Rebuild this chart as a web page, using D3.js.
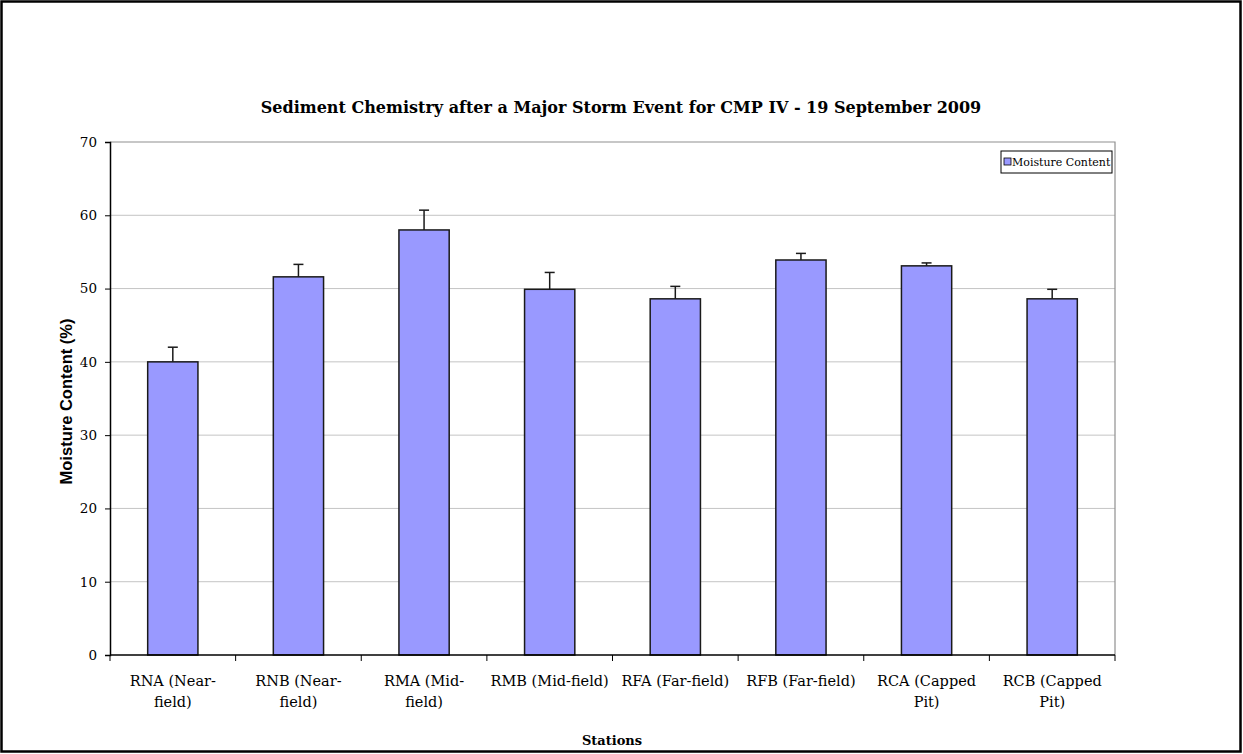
<!DOCTYPE html>
<html>
<head>
<meta charset="utf-8">
<script src="https://cdn.jsdelivr.net/npm/d3@7"></script>
<style>
  body { margin: 0; background: #fff; }
</style>
</head>
<body>
<div id="chart"></div>
<script>
var stations = ["RNA (Near-field)", "RNB (Near-field)", "RMA (Mid-field)", "RMB (Mid-field)",
                "RFA (Far-field)", "RFB (Far-field)", "RCA (Capped Pit)", "RCB (Capped Pit)"];
var stationLines = [["RNA (Near-", "field)"], ["RNB (Near-", "field)"], ["RMA (Mid-", "field)"],
                    ["RMB (Mid-field)"], ["RFA (Far-field)"], ["RFB (Far-field)"],
                    ["RCA (Capped", "Pit)"], ["RCB (Capped", "Pit)"]];
var moisture = [40.0, 51.6, 58.0, 49.9, 48.6, 53.9, 53.1, 48.6];
var moistureErr = [2.0, 1.7, 2.7, 2.3, 1.7, 0.9, 0.4, 1.3];
var yTicks = [0, 10, 20, 30, 40, 50, 60, 70];

var width = 1243, height = 754;
var plotLeft = 110, plotRight = 1115, plotTop = 142, plotBottom = 655;

var svg = d3.select("#chart").append("svg")
  .attr("width", width)
  .attr("height", height);

// outer frame
svg.append("rect")
  .attr("x", 1.5).attr("y", 1.5)
  .attr("width", 1239).attr("height", 750)
  .attr("fill", "white")
  .attr("stroke", "black")
  .attr("stroke-width", 2.5);

var x = d3.scaleBand().domain(stations).range([plotLeft, plotRight]);
var y = d3.scaleLinear().domain([0, 70]).range([plotBottom, plotTop]);

// gridlines
svg.append("g").selectAll("line")
  .data(yTicks.filter(function(d) { return d > 0 && d < 70; }))
  .enter().append("line")
  .attr("x1", plotLeft).attr("x2", plotRight)
  .attr("y1", function(d) { return y(d); })
  .attr("y2", function(d) { return y(d); })
  .attr("stroke", "#c4c4c4")
  .attr("stroke-width", 1);

// plot frame (top and right in gray)
svg.append("path")
  .attr("d", "M" + plotLeft + "," + y(70) + "H" + plotRight + "V" + plotBottom)
  .attr("fill", "none")
  .attr("stroke", "#909090")
  .attr("stroke-width", 1.2);

// bars
var barW = x.step() * 0.4;
svg.append("g").selectAll("rect")
  .data(stations)
  .enter().append("rect")
  .attr("x", function(d) { return x(d) + x.step() / 2 - barW / 2; })
  .attr("y", function(d, i) { return y(moisture[i]); })
  .attr("width", barW)
  .attr("height", function(d, i) { return y(0) - y(moisture[i]); })
  .attr("fill", "#9999ff")
  .attr("stroke", "#1a1a1a")
  .attr("stroke-width", 1.5);

// error bars (upper only)
var eb = svg.append("g").attr("stroke", "#1a1a1a").attr("stroke-width", 1.5);
stations.forEach(function(s, i) {
  var cx = x(s) + x.step() / 2;
  eb.append("line")
    .attr("x1", cx).attr("x2", cx)
    .attr("y1", y(moisture[i])).attr("y2", y(moisture[i] + moistureErr[i]));
  eb.append("line")
    .attr("x1", cx - 5).attr("x2", cx + 5)
    .attr("y1", y(moisture[i] + moistureErr[i])).attr("y2", y(moisture[i] + moistureErr[i]));
});

// y axis
var yAxis = svg.append("g")
  .attr("transform", "translate(" + plotLeft + ",0)")
  .call(d3.axisLeft(y).tickValues(yTicks).tickSize(5).tickPadding(8));
yAxis.select(".domain").attr("stroke", "black").attr("stroke-width", 1.5);
yAxis.selectAll(".tick line").attr("stroke", "black");
yAxis.selectAll("text")
  .attr("font-family", "DejaVu Serif, serif")
  .attr("font-size", 13.5)
  .attr("fill", "black");

// x axis
var xAxis = svg.append("g")
  .attr("transform", "translate(0," + plotBottom + ")");
xAxis.append("line")
  .attr("x1", plotLeft).attr("x2", plotRight)
  .attr("stroke", "black").attr("stroke-width", 1.5);
xAxis.selectAll(".tk")
  .data(d3.range(stations.length + 1))
  .enter().append("line")
  .attr("x1", function(i) { return plotLeft + i * x.step(); })
  .attr("x2", function(i) { return plotLeft + i * x.step(); })
  .attr("y1", 0).attr("y2", 6)
  .attr("stroke", "black");
var lbl = xAxis.selectAll(".lbl")
  .data(stations)
  .enter().append("text")
  .attr("text-anchor", "middle")
  .attr("font-family", "DejaVu Serif, serif")
  .attr("font-size", 14.5)
  .attr("fill", "black")
  .attr("transform", function(d) { return "translate(" + (x(d) + x.step() / 2) + ",0)"; });
lbl.selectAll("tspan")
  .data(function(d, i) { return stationLines[i]; })
  .enter().append("tspan")
  .attr("x", 0)
  .attr("y", function(d, j) { return 31 + j * 21; })
  .text(function(d) { return d; });

// title
svg.append("text")
  .attr("x", 621).attr("y", 113)
  .attr("text-anchor", "middle")
  .attr("font-family", "DejaVu Serif, serif")
  .attr("font-weight", "bold")
  .attr("font-size", 16)
  .text("Sediment Chemistry after a Major Storm Event for CMP IV - 19 September 2009");

// axis titles
svg.append("text")
  .attr("x", 612).attr("y", 745)
  .attr("text-anchor", "middle")
  .attr("font-family", "DejaVu Serif, serif")
  .attr("font-weight", "bold")
  .attr("font-size", 13)
  .text("Stations");

svg.append("text")
  .attr("transform", "translate(72," + (y(35) + 3) + ") rotate(-90)")
  .attr("text-anchor", "middle")
  .attr("font-family", "Liberation Sans, Arial, sans-serif")
  .attr("font-weight", "bold")
  .attr("font-size", 16.5)
  .text("Moisture Content (%)");

// legend
var lg = svg.append("g");
lg.append("rect")
  .attr("x", 1001).attr("y", 151)
  .attr("width", 111).attr("height", 22)
  .attr("fill", "white").attr("stroke", "black").attr("stroke-width", 1);
lg.append("rect")
  .attr("x", 1004).attr("y", 158)
  .attr("width", 7).attr("height", 7)
  .attr("fill", "#9999ff").attr("stroke", "black").attr("stroke-width", 0.8);
lg.append("text")
  .attr("x", 1012).attr("y", 166)
  .attr("font-family", "DejaVu Serif, serif")
  .attr("font-size", 11)
  .text("Moisture Content");
</script>
</body>
</html>
